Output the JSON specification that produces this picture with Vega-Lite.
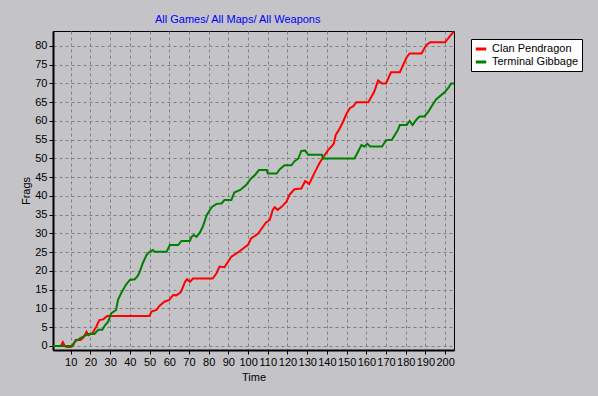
{
  "$schema": "https://vega.github.io/schema/vega-lite/v6.json",
  "width": 401,
  "height": 319,
  "autosize": "none",
  "padding": {"left": 53, "top": 31, "right": 144, "bottom": 46},
  "background": "#C4C3C7",
  "config": {
    "font": "Liberation Sans",
    "view": {"stroke": "#000000", "strokeWidth": 1, "fill": "#C4C3C7"}
  },
  "title": {
    "text": "All Games/ All Maps/ All Weapons",
    "color": "#0000FF",
    "fontSize": 11,
    "fontWeight": "normal",
    "font": "Liberation Sans",
    "anchor": "start",
    "frame": "group",
    "dx": 102,
    "dy": 11,
    "baseline": "alphabetic",
    "offset": 8
  },
  "datasets": {
    "frags": [
      {"team": "Clan Pendragon", "time": 1, "frags": 0},
      {"team": "Clan Pendragon", "time": 5, "frags": 0},
      {"team": "Clan Pendragon", "time": 6, "frags": 1},
      {"team": "Clan Pendragon", "time": 7, "frags": 0},
      {"team": "Clan Pendragon", "time": 8, "frags": -0.3},
      {"team": "Clan Pendragon", "time": 10, "frags": -0.3},
      {"team": "Clan Pendragon", "time": 11, "frags": 0},
      {"team": "Clan Pendragon", "time": 12.5, "frags": 1.6},
      {"team": "Clan Pendragon", "time": 15, "frags": 1.6},
      {"team": "Clan Pendragon", "time": 16.5, "frags": 2.3},
      {"team": "Clan Pendragon", "time": 18, "frags": 3.8},
      {"team": "Clan Pendragon", "time": 19, "frags": 2.9},
      {"team": "Clan Pendragon", "time": 21, "frags": 3.4},
      {"team": "Clan Pendragon", "time": 23, "frags": 5.2},
      {"team": "Clan Pendragon", "time": 24.5, "frags": 6.9},
      {"team": "Clan Pendragon", "time": 26.5, "frags": 7.1},
      {"team": "Clan Pendragon", "time": 28.5, "frags": 8},
      {"team": "Clan Pendragon", "time": 50, "frags": 8},
      {"team": "Clan Pendragon", "time": 51, "frags": 9.2},
      {"team": "Clan Pendragon", "time": 53.5, "frags": 9.6},
      {"team": "Clan Pendragon", "time": 55, "frags": 10.7},
      {"team": "Clan Pendragon", "time": 57.5, "frags": 11.8},
      {"team": "Clan Pendragon", "time": 60, "frags": 12.3},
      {"team": "Clan Pendragon", "time": 62, "frags": 13.6},
      {"team": "Clan Pendragon", "time": 63.5, "frags": 13.5},
      {"team": "Clan Pendragon", "time": 65, "frags": 14},
      {"team": "Clan Pendragon", "time": 66, "frags": 14.5},
      {"team": "Clan Pendragon", "time": 68, "frags": 17.1},
      {"team": "Clan Pendragon", "time": 69, "frags": 17.8},
      {"team": "Clan Pendragon", "time": 70.5, "frags": 17.1},
      {"team": "Clan Pendragon", "time": 72, "frags": 18},
      {"team": "Clan Pendragon", "time": 82, "frags": 18},
      {"team": "Clan Pendragon", "time": 84, "frags": 19.4},
      {"team": "Clan Pendragon", "time": 85.5, "frags": 21.2},
      {"team": "Clan Pendragon", "time": 88, "frags": 21},
      {"team": "Clan Pendragon", "time": 91.5, "frags": 23.8},
      {"team": "Clan Pendragon", "time": 95, "frags": 25},
      {"team": "Clan Pendragon", "time": 97.5, "frags": 26},
      {"team": "Clan Pendragon", "time": 100, "frags": 27},
      {"team": "Clan Pendragon", "time": 101.5, "frags": 28.7},
      {"team": "Clan Pendragon", "time": 105, "frags": 29.9},
      {"team": "Clan Pendragon", "time": 107, "frags": 31.4},
      {"team": "Clan Pendragon", "time": 109, "frags": 32.9},
      {"team": "Clan Pendragon", "time": 111, "frags": 33.6},
      {"team": "Clan Pendragon", "time": 112.5, "frags": 36.3},
      {"team": "Clan Pendragon", "time": 113.5, "frags": 37},
      {"team": "Clan Pendragon", "time": 115, "frags": 36.3},
      {"team": "Clan Pendragon", "time": 117, "frags": 37.1},
      {"team": "Clan Pendragon", "time": 119.5, "frags": 38.5},
      {"team": "Clan Pendragon", "time": 121, "frags": 40.3},
      {"team": "Clan Pendragon", "time": 123.5, "frags": 41.8},
      {"team": "Clan Pendragon", "time": 127, "frags": 42},
      {"team": "Clan Pendragon", "time": 129, "frags": 44},
      {"team": "Clan Pendragon", "time": 131, "frags": 43.2},
      {"team": "Clan Pendragon", "time": 134, "frags": 46.5},
      {"team": "Clan Pendragon", "time": 136.5, "frags": 49},
      {"team": "Clan Pendragon", "time": 139, "frags": 51},
      {"team": "Clan Pendragon", "time": 140.7, "frags": 52.3},
      {"team": "Clan Pendragon", "time": 142.3, "frags": 53.2},
      {"team": "Clan Pendragon", "time": 143.5, "frags": 54},
      {"team": "Clan Pendragon", "time": 144.5, "frags": 56.3},
      {"team": "Clan Pendragon", "time": 146.5, "frags": 58},
      {"team": "Clan Pendragon", "time": 148.2, "frags": 59.8},
      {"team": "Clan Pendragon", "time": 150, "frags": 62},
      {"team": "Clan Pendragon", "time": 151.6, "frags": 63.4},
      {"team": "Clan Pendragon", "time": 153.5, "frags": 64},
      {"team": "Clan Pendragon", "time": 155, "frags": 65},
      {"team": "Clan Pendragon", "time": 161, "frags": 65},
      {"team": "Clan Pendragon", "time": 164, "frags": 67.8},
      {"team": "Clan Pendragon", "time": 166, "frags": 70.8},
      {"team": "Clan Pendragon", "time": 168, "frags": 70},
      {"team": "Clan Pendragon", "time": 170, "frags": 70},
      {"team": "Clan Pendragon", "time": 172.5, "frags": 73},
      {"team": "Clan Pendragon", "time": 177, "frags": 73},
      {"team": "Clan Pendragon", "time": 180.5, "frags": 77},
      {"team": "Clan Pendragon", "time": 182, "frags": 78},
      {"team": "Clan Pendragon", "time": 188, "frags": 78},
      {"team": "Clan Pendragon", "time": 190.5, "frags": 80.3},
      {"team": "Clan Pendragon", "time": 192.5, "frags": 81},
      {"team": "Clan Pendragon", "time": 200, "frags": 81},
      {"team": "Clan Pendragon", "time": 201.5, "frags": 82},
      {"team": "Clan Pendragon", "time": 203, "frags": 83},
      {"team": "Clan Pendragon", "time": 204.4, "frags": 83.8},
      {"team": "Terminal Gibbage", "time": 1, "frags": 0},
      {"team": "Terminal Gibbage", "time": 10.5, "frags": 0},
      {"team": "Terminal Gibbage", "time": 12, "frags": 1.1},
      {"team": "Terminal Gibbage", "time": 14.5, "frags": 2},
      {"team": "Terminal Gibbage", "time": 17, "frags": 2.7},
      {"team": "Terminal Gibbage", "time": 19, "frags": 3.2},
      {"team": "Terminal Gibbage", "time": 22, "frags": 3.2},
      {"team": "Terminal Gibbage", "time": 24, "frags": 4.3},
      {"team": "Terminal Gibbage", "time": 26, "frags": 4.3},
      {"team": "Terminal Gibbage", "time": 27.5, "frags": 5.6},
      {"team": "Terminal Gibbage", "time": 29, "frags": 6.5},
      {"team": "Terminal Gibbage", "time": 30.5, "frags": 8.7},
      {"team": "Terminal Gibbage", "time": 33, "frags": 9.6},
      {"team": "Terminal Gibbage", "time": 34, "frags": 12.3},
      {"team": "Terminal Gibbage", "time": 35.5, "frags": 14},
      {"team": "Terminal Gibbage", "time": 38, "frags": 16.3},
      {"team": "Terminal Gibbage", "time": 40, "frags": 17.6},
      {"team": "Terminal Gibbage", "time": 42.5, "frags": 17.8},
      {"team": "Terminal Gibbage", "time": 44, "frags": 18.7},
      {"team": "Terminal Gibbage", "time": 45, "frags": 19.8},
      {"team": "Terminal Gibbage", "time": 46.5, "frags": 22},
      {"team": "Terminal Gibbage", "time": 48.5, "frags": 24.3},
      {"team": "Terminal Gibbage", "time": 50, "frags": 25.1},
      {"team": "Terminal Gibbage", "time": 51.7, "frags": 25.6},
      {"team": "Terminal Gibbage", "time": 52.5, "frags": 25.1},
      {"team": "Terminal Gibbage", "time": 58.6, "frags": 25.1},
      {"team": "Terminal Gibbage", "time": 60.3, "frags": 26.9},
      {"team": "Terminal Gibbage", "time": 64.5, "frags": 26.9},
      {"team": "Terminal Gibbage", "time": 66.2, "frags": 28},
      {"team": "Terminal Gibbage", "time": 70.4, "frags": 28},
      {"team": "Terminal Gibbage", "time": 71.3, "frags": 29.1},
      {"team": "Terminal Gibbage", "time": 72.5, "frags": 29.6},
      {"team": "Terminal Gibbage", "time": 73.8, "frags": 29.1},
      {"team": "Terminal Gibbage", "time": 75.5, "frags": 30.2},
      {"team": "Terminal Gibbage", "time": 77, "frags": 31.8},
      {"team": "Terminal Gibbage", "time": 79, "frags": 34.9},
      {"team": "Terminal Gibbage", "time": 81.5, "frags": 37},
      {"team": "Terminal Gibbage", "time": 84, "frags": 37.9},
      {"team": "Terminal Gibbage", "time": 86.5, "frags": 38},
      {"team": "Terminal Gibbage", "time": 88, "frags": 38.9},
      {"team": "Terminal Gibbage", "time": 91.5, "frags": 38.9},
      {"team": "Terminal Gibbage", "time": 93, "frags": 40.9},
      {"team": "Terminal Gibbage", "time": 96, "frags": 41.6},
      {"team": "Terminal Gibbage", "time": 99, "frags": 42.9},
      {"team": "Terminal Gibbage", "time": 101.5, "frags": 44.7},
      {"team": "Terminal Gibbage", "time": 103.5, "frags": 45.6},
      {"team": "Terminal Gibbage", "time": 105.5, "frags": 46.9},
      {"team": "Terminal Gibbage", "time": 109.5, "frags": 46.9},
      {"team": "Terminal Gibbage", "time": 110, "frags": 46},
      {"team": "Terminal Gibbage", "time": 114.5, "frags": 46},
      {"team": "Terminal Gibbage", "time": 116, "frags": 47.1},
      {"team": "Terminal Gibbage", "time": 118.5, "frags": 48.2},
      {"team": "Terminal Gibbage", "time": 122, "frags": 48.2},
      {"team": "Terminal Gibbage", "time": 123.5, "frags": 49.2},
      {"team": "Terminal Gibbage", "time": 125.5, "frags": 50},
      {"team": "Terminal Gibbage", "time": 127, "frags": 52},
      {"team": "Terminal Gibbage", "time": 129, "frags": 52.1},
      {"team": "Terminal Gibbage", "time": 130.5, "frags": 51},
      {"team": "Terminal Gibbage", "time": 137.5, "frags": 51},
      {"team": "Terminal Gibbage", "time": 138, "frags": 50},
      {"team": "Terminal Gibbage", "time": 154, "frags": 50},
      {"team": "Terminal Gibbage", "time": 156, "frags": 52},
      {"team": "Terminal Gibbage", "time": 157.5, "frags": 53.6},
      {"team": "Terminal Gibbage", "time": 159, "frags": 53.2},
      {"team": "Terminal Gibbage", "time": 160.5, "frags": 53.9},
      {"team": "Terminal Gibbage", "time": 162, "frags": 53.2},
      {"team": "Terminal Gibbage", "time": 168, "frags": 53.2},
      {"team": "Terminal Gibbage", "time": 170, "frags": 54.9},
      {"team": "Terminal Gibbage", "time": 173, "frags": 55},
      {"team": "Terminal Gibbage", "time": 176, "frags": 57.6},
      {"team": "Terminal Gibbage", "time": 177, "frags": 58.9},
      {"team": "Terminal Gibbage", "time": 180.5, "frags": 58.9},
      {"team": "Terminal Gibbage", "time": 182, "frags": 60},
      {"team": "Terminal Gibbage", "time": 183.5, "frags": 58.9},
      {"team": "Terminal Gibbage", "time": 185.5, "frags": 60.4},
      {"team": "Terminal Gibbage", "time": 187, "frags": 61.2},
      {"team": "Terminal Gibbage", "time": 189.5, "frags": 61.2},
      {"team": "Terminal Gibbage", "time": 191.5, "frags": 62.5},
      {"team": "Terminal Gibbage", "time": 193, "frags": 63.8},
      {"team": "Terminal Gibbage", "time": 195.5, "frags": 65.8},
      {"team": "Terminal Gibbage", "time": 198, "frags": 66.9},
      {"team": "Terminal Gibbage", "time": 200, "frags": 67.8},
      {"team": "Terminal Gibbage", "time": 202, "frags": 69.1},
      {"team": "Terminal Gibbage", "time": 203, "frags": 70},
      {"team": "Terminal Gibbage", "time": 204.5, "frags": 70}
    ]
  },
  "data": {"name": "frags"},
  "mark": {"type": "line", "strokeWidth": 2, "interpolate": "linear", "clip": true},
  "encoding": {
    "x": {
      "field": "time",
      "type": "quantitative",
      "scale": {"domain": [1, 204.5], "nice": false, "zero": false},
      "axis": {
        "title": "Time",
        "values": [10, 20, 30, 40, 50, 60, 70, 80, 90, 100, 110, 120, 130, 140, 150, 160, 170, 180, 190, 200],
        "labelOverlap": false,
        "labelFlush": false,
        "labelFont": "Liberation Sans",
        "labelFontSize": 11,
        "labelColor": "#000000",
        "labelPadding": 2,
        "tickSize": 4,
        "tickColor": "#000000",
        "domainColor": "#000000",
        "domainWidth": 2,
        "grid": true,
        "gridColor": "#808080",
        "gridDash": [3, 3],
        "gridWidth": 1,
        "gridOpacity": 1,
        "titleFont": "Liberation Sans",
        "titleFontSize": 11,
        "titleFontWeight": "normal",
        "titleColor": "#000000",
        "titlePadding": 4
      }
    },
    "y": {
      "field": "frags",
      "type": "quantitative",
      "scale": {"domain": [-1.07, 84], "nice": false, "zero": false},
      "axis": {
        "title": "Frags",
        "values": [0, 5, 10, 15, 20, 25, 30, 35, 40, 45, 50, 55, 60, 65, 70, 75, 80],
        "labelOverlap": false,
        "labelFont": "Liberation Sans",
        "labelFontSize": 11,
        "labelColor": "#000000",
        "labelPadding": 2,
        "tickSize": 4,
        "tickColor": "#000000",
        "domainColor": "#000000",
        "domainWidth": 2,
        "grid": true,
        "gridColor": "#808080",
        "gridDash": [3, 3],
        "gridWidth": 1,
        "gridOpacity": 1,
        "titleFont": "Liberation Sans",
        "titleFontSize": 11,
        "titleFontWeight": "normal",
        "titleColor": "#000000",
        "titlePadding": 3
      }
    },
    "color": {
      "field": "team",
      "type": "nominal",
      "scale": {"domain": ["Clan Pendragon", "Terminal Gibbage"], "range": ["#FF0000", "#008000"]},
      "legend": {
        "title": null,
        "orient": "none",
        "legendX": 418,
        "legendY": 8,
        "fillColor": "#FFFFFF",
        "strokeColor": "#000000",
        "padding": 3,
        "symbolType": "stroke",
        "symbolSize": 110,
        "symbolStrokeWidth": 3,
        "labelFont": "Liberation Sans",
        "labelFontSize": 11,
        "labelColor": "#000000",
        "labelLimit": 200,
        "labelOffset": 4,
        "rowPadding": 0
      }
    }
  }
}
